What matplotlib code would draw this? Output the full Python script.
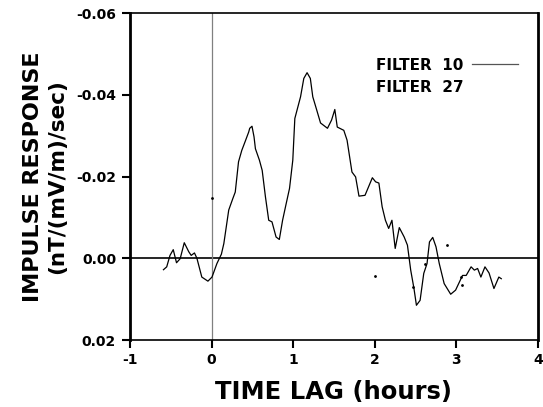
import matplotlib
matplotlib.use("Agg")
import matplotlib.pyplot as plt
from matplotlib.lines import Line2D

# Filter 10 impulse response (hours, nT/(mV/m)/sec)
lag10 = [-0.59, -0.55, -0.51, -0.47, -0.43, -0.385, -0.335, -0.28, -0.25, -0.21, -0.18,
         -0.12, -0.045, 0.005, 0.065, 0.12, 0.15, 0.21, 0.26, 0.29, 0.33, 0.37, 0.41,
         0.455, 0.467, 0.495, 0.52, 0.537, 0.586, 0.62, 0.66, 0.70, 0.74, 0.79, 0.83,
         0.87, 0.91, 0.955, 0.995, 1.02, 1.09, 1.13, 1.17, 1.21, 1.24, 1.27, 1.335,
         1.42, 1.47, 1.51, 1.54, 1.62, 1.66, 1.72, 1.765, 1.806, 1.88, 1.97, 2.01,
         2.05, 2.09, 2.13, 2.17, 2.21, 2.25, 2.30, 2.36, 2.40, 2.44, 2.48, 2.51,
         2.555, 2.60, 2.64, 2.67, 2.71, 2.75, 2.79, 2.85, 2.93, 2.99, 3.075, 3.12,
         3.18, 3.22, 3.26, 3.30, 3.35, 3.40, 3.46, 3.52, 3.55]
resp10 = [0.0028, 0.0021, -0.0007, -0.0021, 0.0011, 0.0001, -0.0038, -0.0016, -0.0007,
          -0.0013, 0.0000, 0.0046, 0.0056, 0.0046, 0.0013, -0.0010, -0.0036, -0.0118,
          -0.0146, -0.0162, -0.0236, -0.0264, -0.0285, -0.0309, -0.0318, -0.0323,
          -0.0297, -0.0268, -0.0240, -0.0215, -0.0150, -0.0093, -0.0089, -0.0052,
          -0.0046, -0.0093, -0.0130, -0.0171, -0.0240, -0.0342, -0.0395, -0.0440,
          -0.0454, -0.0440, -0.0395, -0.0375, -0.0331, -0.0318, -0.0338, -0.0364,
          -0.0321, -0.0313, -0.0289, -0.0211, -0.0199, -0.0152, -0.0154, -0.0197,
          -0.0187, -0.0184, -0.0126, -0.0093, -0.0073, -0.0093, -0.0024, -0.0075,
          -0.0052, -0.0032, 0.0029, 0.0074, 0.0115, 0.0103, 0.0037, 0.0013, -0.0040,
          -0.0051, -0.0028, 0.0013, 0.0062, 0.0088, 0.0078, 0.0042, 0.0042, 0.0021,
          0.0029, 0.0025, 0.0046, 0.0021, 0.0036, 0.0074, 0.0046, 0.0050]

# Filter 27: only scattered fragments visible
lag27 = [0.0, 2.0, 2.47, 2.62, 2.89, 3.06, 3.07]
resp27 = [-0.0148, 0.0044, 0.0070, 0.0013, -0.0032, 0.0045, 0.0065]

xticks = [-1, 0, 1, 2, 3, 4]
yticks = [-0.06, -0.04, -0.02, 0.00, 0.02]
ytick_labels = ["-0.06", "-0.04", "-0.02", "0.00", "0.02"]

fig = plt.figure(figsize=(5.43, 4.07), dpi=100)
ax = fig.add_axes([0.2394, 0.1646, 0.7514, 0.8034])

ax.axhline(0, color="black", lw=1.2, zorder=1)
ax.axvline(0, color="#808080", lw=0.9, zorder=1)
l10, = ax.plot(lag10, resp10, color="black", lw=0.9, zorder=3)
ax.plot(lag27, resp27, linestyle="none", marker=".", ms=2, color="black", zorder=3)

ax.set_xlim(-1, 4)
ax.set_ylim(0.02, -0.06)
ax.set_xticks(xticks)
ax.set_xticklabels([str(t) for t in xticks])
ax.set_yticks(yticks)
ax.set_yticklabels(ytick_labels)

for s in ["left", "right"]:
    ax.spines[s].set_linewidth(2.0)
for s in ["top", "bottom"]:
    ax.spines[s].set_linewidth(1.2)
ax.tick_params(direction="out", length=6, width=1.5, labelsize=10)
ax.tick_params(axis="y", pad=4)
ax.tick_params(axis="x", pad=3)
for lab in ax.get_xticklabels() + ax.get_yticklabels():
    lab.set_fontweight("bold")

ax.set_xlabel("TIME LAG (hours)", fontsize=17.5, fontweight="bold", labelpad=10)
fig.text(0.061, 0.565, "IMPULSE RESPONSE", rotation=90, fontsize=16,
         fontweight="bold", ha="center", va="center")
fig.text(0.106, 0.565, "(nT/(mV/m)/sec)", rotation=90, fontsize=15.5,
         fontweight="bold", ha="center", va="center")

h27 = Line2D([], [], color="none")
leg = ax.legend([l10, h27], ["FILTER  10", "FILTER  27"], loc="upper right",
                bbox_to_anchor=(0.985, 0.905), frameon=False, markerfirst=False,
                handlelength=3.0, handletextpad=0.6, labelspacing=0.45,
                prop={"weight": "bold", "size": 11})
leg.get_lines()[0].set_color("#555555")

fig.savefig("out.png", dpi=100)
